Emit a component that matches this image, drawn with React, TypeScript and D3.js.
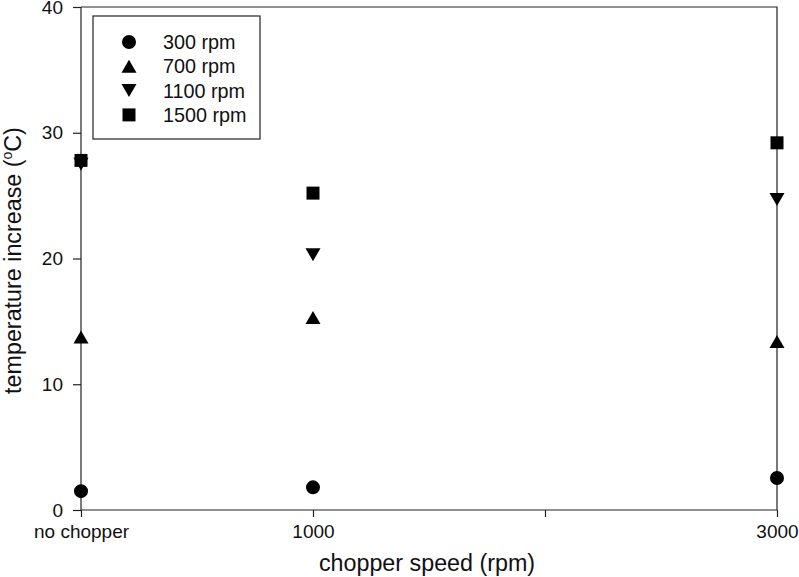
import React, { useEffect, useRef } from "react";
import * as d3 from "d3";

// chopper speed positions (0 = no chopper)
const speeds = [0, 1000, 3000];
const xTicks = [0, 1000, 2000, 3000];
const xTickLabels = ["no chopper", "1000", "", "3000"];
const yTicks = [0, 10, 20, 30, 40];

const seriesNames = ["300 rpm", "700 rpm", "1100 rpm", "1500 rpm"];
const seriesShapes = ["circle", "triangleUp", "triangleDown", "square"];
const rpm300 = [1.5, 1.8, 2.55];
const rpm700 = [13.75, 15.3, 13.4];
const rpm1100 = [27.5, 20.3, 24.7];
const rpm1500 = [27.8, 25.2, 29.2];
const seriesValues = [rpm300, rpm700, rpm1100, rpm1500];

const FONT = "'Liberation Sans', Arial, Helvetica, sans-serif";

const symbolPath = (shape: string) => {
  if (shape === "circle") return d3.symbol(d3.symbolCircle, 154)();
  if (shape === "square") return "M-6.5,-6.5H6.5V6.5H-6.5Z";
  if (shape === "triangleUp") return "M0,-6.5L7.5,6.5L-7.5,6.5Z";
  return "M0,6.5L7.5,-6.5L-7.5,-6.5Z";
};

const App = () => {
  const ref = useRef<SVGSVGElement>(null);

  useEffect(() => {
    const width = 799;
    const height = 577;
    const margin = { top: 7, right: 22, bottom: 67, left: 81 };
    const w = width - margin.left - margin.right;
    const h = height - margin.top - margin.bottom;

    const root = d3.select(ref.current);
    root.selectAll("*").remove();
    const svg = root
      .append("g")
      .attr("transform", `translate(${margin.left},${margin.top})`);

    const x = d3.scaleLinear().domain([0, 3000]).range([0, w]);
    const y = d3.scaleLinear().domain([0, 40]).range([h, 0]);

    // frame (top and right)
    svg
      .append("path")
      .attr("d", `M0,0H${w}V${h}`)
      .attr("fill", "none")
      .attr("stroke", "#222")
      .attr("stroke-width", 1.2);

    // X axis
    const xAxis = svg
      .append("g")
      .attr("transform", `translate(0,${h})`)
      .call(
        d3
          .axisBottom(x)
          .tickValues(xTicks)
          .tickSize(7)
          .tickPadding(8)
          .tickFormat((d, i) => xTickLabels[i])
      );
    xAxis.select(".domain").attr("d", `M0,0H${w}`);
    xAxis.selectAll("line").attr("stroke", "#222").attr("stroke-width", 1.2);
    xAxis.select(".domain").attr("stroke", "#222").attr("stroke-width", 1.2);
    xAxis
      .selectAll("text")
      .attr("font-family", FONT)
      .attr("font-size", 19)
      .attr("fill", "#111");

    // Y axis
    const yAxis = svg.append("g").call(
      d3.axisLeft(y).tickValues(yTicks).tickSize(8).tickPadding(10)
    );
    yAxis.select(".domain").attr("d", `M0,${h}V0`);
    yAxis.selectAll("line").attr("stroke", "#222").attr("stroke-width", 1.2);
    yAxis.select(".domain").attr("stroke", "#222").attr("stroke-width", 1.2);
    yAxis
      .selectAll("text")
      .attr("font-family", FONT)
      .attr("font-size", 19)
      .attr("fill", "#111");

    // Points
    seriesValues.forEach((vals, si) => {
      svg
        .selectAll(`.pt-${si}`)
        .data(vals)
        .enter()
        .append("path")
        .attr("class", `pt-${si}`)
        .attr("d", symbolPath(seriesShapes[si]))
        .attr("transform", (d, i) => `translate(${x(speeds[i])},${y(d)})`)
        .attr("fill", "#000");
    });

    // Legend
    const legend = svg.append("g").attr("transform", "translate(12,9)");
    legend
      .append("rect")
      .attr("width", 167)
      .attr("height", 123)
      .attr("fill", "#fff")
      .attr("stroke", "#222")
      .attr("stroke-width", 1.2);
    seriesNames.forEach((name, i) => {
      const row = legend
        .append("g")
        .attr("transform", `translate(36,${26 + i * 24.3})`);
      row.append("path").attr("d", symbolPath(seriesShapes[i])).attr("fill", "#000");
      row
        .append("text")
        .attr("x", 34)
        .attr("dy", "0.35em")
        .attr("font-family", FONT)
        .attr("font-size", 19.8)
        .attr("fill", "#111")
        .text(name);
    });

    // Axis titles
    root
      .append("text")
      .attr("x", margin.left + w / 2 - 2)
      .attr("y", 571)
      .attr("text-anchor", "middle")
      .attr("font-family", FONT)
      .attr("font-size", 23.3)
      .attr("fill", "#111")
      .text("chopper speed (rpm)");

    const yTitle = root
      .append("text")
      .attr("transform", `translate(21,${margin.top + h / 2 + 2}) rotate(-90)`)
      .attr("text-anchor", "middle")
      .attr("font-family", FONT)
      .attr("font-size", 23.3)
      .attr("fill", "#111");
    yTitle.append("tspan").text("temperature increase (");
    yTitle.append("tspan").attr("dy", -9).attr("font-size", 14).text("o");
    yTitle.append("tspan").attr("dy", 9).text("C)");
  }, []);

  return (
    <svg
      ref={ref}
      width={799}
      height={577}
      style={{ position: "absolute", left: 0, top: 0, background: "#fff" }}
    />
  );
};

export default App;
